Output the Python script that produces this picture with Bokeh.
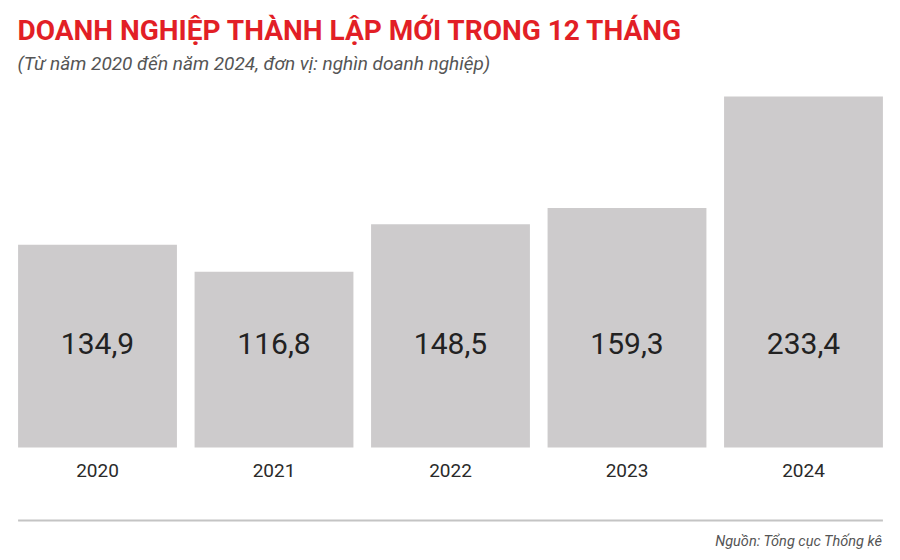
from bokeh.plotting import figure
from bokeh.models import Range1d, FactorRange, Label, ColumnDataSource
from bokeh.core.properties import value
from bokeh.embed import file_html
from bokeh.resources import INLINE

title_text = "DOANH NGHIỆP THÀNH LẬP MỚI TRONG 12 THÁNG"
subtitle_text = "(Từ năm 2020 đến năm 2024, đơn vị: nghìn doanh nghiệp)"
source_text = "Nguồn: Tổng cục Thống kê"
years = ["2020", "2021", "2022", "2023", "2024"]
values = [134.9, 116.8, 148.5, 159.3, 233.4]
value_labels = ["134,9", "116,8", "148,5", "159,3", "233,4"]

src = ColumnDataSource(dict(year=years, val=values, lab=value_labels))

p = figure(width=900, height=560,
           x_range=FactorRange(*years, range_padding=0.0496, range_padding_units="absolute"),
           y_range=Range1d(-75.1, 297.2),
           output_backend="svg", toolbar_location=None,
           x_axis_location=None, y_axis_location=None,
           min_border=0)
p.grid.visible = False
p.outline_line_color = None
p.background_fill_color = "white"
p.border_fill_color = "white"

p.vbar(x="year", top="val", bottom=0, width=0.9, source=src,
       fill_color="#cdcbcc", line_color=None)

p.text(x="year", y=69.0, text="lab", source=src,
       text_font=value("Roboto"), text_font_size="30px", text_color="#222222",
       text_align="center", text_baseline="alphabetic")

p.text(x="year", y=-15.3, text="year", source=src,
       text_font=value("Roboto"), text_font_size="19px", text_color="#2a2a2a",
       text_align="center", text_baseline="alphabetic")

p.segment(x0=[(years[0], -0.45)], y0=[-48.5], x1=[(years[-1], 0.45)], y1=[-48.5],
          line_color="#c4c4c4", line_width=2)

p.add_layout(Label(x=17, y=560 - 30, x_units="screen", y_units="screen",
                   text=title_text, text_font="Roboto", text_font_style="bold",
                   text_font_size="28px", text_color="#e21f26",
                   text_baseline="alphabetic", text_align="left"))
p.add_layout(Label(x=17, y=560 - 63, x_units="screen", y_units="screen",
                   text=subtitle_text, text_font="Roboto", text_font_style="italic",
                   text_font_size="19px", text_color="#555555",
                   text_baseline="alphabetic", text_align="left"))
p.add_layout(Label(x=882, y=560 - 541, x_units="screen", y_units="screen",
                   text=source_text, text_font="Roboto", text_font_style="italic",
                   text_font_size="14.5px", text_color="#555555",
                   text_baseline="alphabetic", text_align="right"))

open("out.html", "w").write(file_html(p, INLINE))
